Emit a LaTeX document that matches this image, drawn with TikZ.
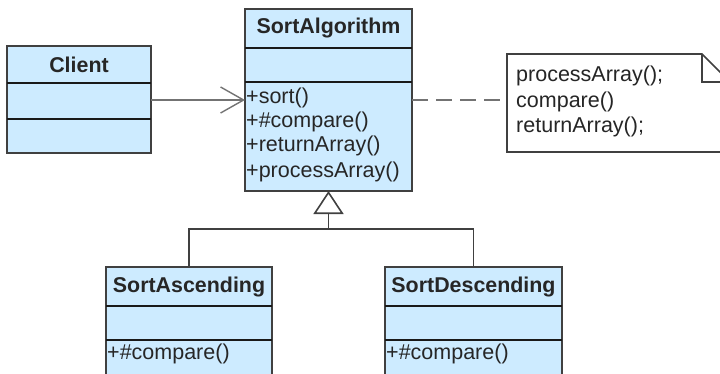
\documentclass[tikz,border=0pt]{standalone}
\usepackage{fontspec}
\setmainfont{Liberation Sans}
\usetikzlibrary{arrows.meta}
\definecolor{umlfill}{HTML}{CDEBFF}
\definecolor{umlline}{HTML}{404040}
\begin{document}
\begin{tikzpicture}[x=1pt,y=-1pt,
  cls/.style={draw=umlline, line width=1.8pt, fill=umlfill, inner sep=0pt, outer sep=0pt},
  ttl/.style={font=\fontsize{21.4}{24}\selectfont\bfseries, text=black!85, inner sep=0pt},
  mth/.style={font=\fontsize{21.5}{24}\selectfont, text=black!85, anchor=west, inner sep=0pt},
  divline/.style={draw=black!90, line width=1.2pt},
  assoc/.style={draw=black!55, line width=2.4pt},
  genline/.style={draw=umlline, line width=1.8pt},
  dep/.style={draw=black!55, line width=2pt, dash pattern=on 16pt off 8pt},
]
\useasboundingbox (0,0) rectangle (720,373);
\clip (0,0) rectangle (720,373);

% Client
\node[cls, minimum width=144pt, minimum height=107pt] (client) at (79,99.5) {};
\draw[divline] (client.west |- 0,83) -- (client.east |- 0,83);
\draw[divline] (client.west |- 0,119) -- (client.east |- 0,119);
\node[ttl] (clientT) at (79,65) {Client};

% SortAlgorithm
\node[cls, minimum width=167pt, minimum height=182pt] (algo) at (328.5,100) {};
\draw[divline] (algo.west |- 0,48) -- (algo.east |- 0,48);
\draw[divline] (algo.west |- 0,82) -- (algo.east |- 0,82);
\node[ttl] (algoT) at (328.5,28.5) {SortAlgorithm};
\node[mth] (m1) at (246,98) {+sort()};
\node[mth] (m2) at (246,122) {+\#compare()};
\node[mth] (m3) at (246,146) {+returnArray()};
\node[mth] (m4) at (246,171.5) {+processArray()};

% SortAscending
\node[cls, minimum width=166pt, minimum height=123pt] (asc) at (189,328.5) {};
\draw[divline] (asc.west |- 0,306) -- (asc.east |- 0,306);
\draw[divline] (asc.west |- 0,340) -- (asc.east |- 0,340);
\node[ttl] (ascT) at (189,287) {SortAscending};
\node[mth] (ascM) at (107,354) {+\#compare()};

% SortDescending
\node[cls, minimum width=177pt, minimum height=123pt] (desc) at (473.5,328.5) {};
\draw[divline] (desc.west |- 0,306) -- (desc.east |- 0,306);
\draw[divline] (desc.west |- 0,340) -- (desc.east |- 0,340);
\node[ttl] (descT) at (473.5,287) {SortDescending};
\node[mth] (descM) at (386,354) {+\#compare()};

% Note
\node[minimum width=223pt, minimum height=98pt, inner sep=0pt, outer sep=0pt] (note) at (618.5,103) {};
\draw[draw=umlline, line width=1.6pt, fill=white]
  (note.north west) -- ++(195,0) -- ++(28,28) |- (note.south west) -- cycle;
\draw[draw=umlline, line width=1.6pt] (note.north west) ++(195,0) |- ++(28,28);
\node[mth] (n1) at (516,76) {processArray();};
\node[mth] (n2) at (516,102) {compare()};
\node[mth] (n3) at (516,127) {returnArray();};

% Connectors
\draw[assoc, -{Straight Barb[length=23pt, width=26pt, line width=1.4pt]}] (client.east |- 0,100) -- (algo.west |- 0,100);
\draw[dep] (algo.east |- 0,100) -- (note.west |- 0,100);
\coordinate (join) at (328.5,229);
\draw[genline] (asc.north) |- (join) -| (desc.north);
\draw[genline, -{Triangle[open, length=23pt, width=30pt, line width=1.6pt]}] (join) -- (algo.south);
\end{tikzpicture}
\end{document}
